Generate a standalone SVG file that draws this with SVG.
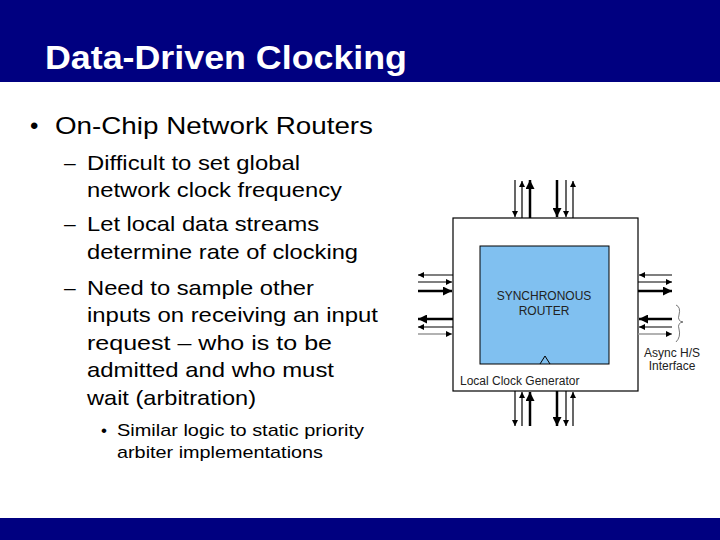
<svg xmlns="http://www.w3.org/2000/svg" width="720" height="540" viewBox="0 0 720 540">
<style>
.t{font-family:"Liberation Sans",Arial,sans-serif;fill:#000}
.l1{font-size:24px}.l2{font-size:21px}.l3{font-size:17px}
.s{font-family:"Liberation Sans",Arial,sans-serif;font-size:12px;fill:#222}
.n{stroke:#000;stroke-width:1.2}.k{stroke:#000;stroke-width:2.5}.g{stroke:#999;stroke-width:1.5}
</style>
<defs>
<marker id="a" viewBox="0 0 10 10" refX="10" refY="5" markerWidth="7" markerHeight="6" orient="auto" markerUnits="userSpaceOnUse"><path d="M0,0L10,5L0,10z"/></marker>
<marker id="b" viewBox="0 0 10 10" refX="10" refY="5" markerWidth="12" markerHeight="9" orient="auto" markerUnits="userSpaceOnUse"><path d="M0,0L10,5L0,10z"/></marker>
</defs>
<rect x="0" y="0" width="720" height="82" fill="#000080"/>
<text x="45" y="69" font-family="Liberation Sans,Arial,sans-serif" font-weight="bold" font-size="33" fill="#fff" textLength="362" lengthAdjust="spacingAndGlyphs">Data-Driven Clocking</text>
<rect x="0" y="518" width="720" height="22" fill="#000080"/>
<g id="text">
<text class="t l1" x="30" y="134">•</text><text class="t l1" x="55" y="134" textLength="318" lengthAdjust="spacingAndGlyphs">On-Chip Network Routers</text>
<text class="t l2" x="64" y="170">–</text><text class="t l2" x="87" y="170" textLength="213" lengthAdjust="spacingAndGlyphs">Difficult to set global</text>
<text class="t l2" x="87" y="197" textLength="255" lengthAdjust="spacingAndGlyphs">network clock frequency</text>
<text class="t l2" x="64" y="231">–</text><text class="t l2" x="87" y="231" textLength="232" lengthAdjust="spacingAndGlyphs">Let local data streams</text>
<text class="t l2" x="87" y="259" textLength="271" lengthAdjust="spacingAndGlyphs">determine rate of clocking</text>
<text class="t l2" x="64" y="295">–</text><text class="t l2" x="87" y="295" textLength="227" lengthAdjust="spacingAndGlyphs">Need to sample other</text>
<text class="t l2" x="87" y="322" textLength="291" lengthAdjust="spacingAndGlyphs">inputs on receiving an input</text>
<text class="t l2" x="87" y="350" textLength="245" lengthAdjust="spacingAndGlyphs">request – who is to be</text>
<text class="t l2" x="87" y="377" textLength="247" lengthAdjust="spacingAndGlyphs">admitted and who must</text>
<text class="t l2" x="87" y="405" textLength="169" lengthAdjust="spacingAndGlyphs">wait (arbitration)</text>
<text class="t l3" x="101" y="436">•</text><text class="t l3" x="117" y="436" textLength="247" lengthAdjust="spacingAndGlyphs">Similar logic to static priority</text>
<text class="t l3" x="117" y="458" textLength="206" lengthAdjust="spacingAndGlyphs">arbiter implementations</text>
</g>
<g id="lcg"><rect x="453" y="218" width="185" height="173" fill="#fff" stroke="#000" stroke-width="1.2"/>
<text class="s" x="460" y="385">Local Clock Generator</text></g>
<g id="router"><rect x="480" y="246" width="129" height="118" fill="#80c0f0" stroke="#000" stroke-width="1"/>
<text class="s" x="544" y="300" text-anchor="middle">SYNCHRONOUS</text>
<text class="s" x="544" y="315" text-anchor="middle">ROUTER</text>
<path d="M540,364L545,356L550,364" fill="none" stroke="#000" stroke-width="1"/></g>
<g id="async"><path d="M676,305q5,2 3,10q-2,6 4,7q-6,1 -4,7q2,8 -3,13" fill="none" stroke="#555" stroke-width="0.8"/>
<text class="s" x="672" y="357" text-anchor="middle" font-size="9.5">Async H/S</text>
<text class="s" x="672" y="370" text-anchor="middle" font-size="9.5">Interface</text></g>
<g id="connectors">
<line class="n" x1="515" y1="180" x2="515" y2="217" marker-end="url(#a)"/>
<line class="n" x1="522" y1="218" x2="522" y2="181" marker-end="url(#a)"/>
<line class="k" x1="530" y1="218" x2="530" y2="180" marker-end="url(#b)"/>
<line class="k" x1="557" y1="180" x2="557" y2="217" marker-end="url(#b)"/>
<line class="n" x1="566" y1="180" x2="566" y2="217" marker-end="url(#a)"/>
<line class="n" x1="573" y1="218" x2="573" y2="181" marker-end="url(#a)"/>
<line class="n" x1="515" y1="391" x2="515" y2="426" marker-end="url(#a)"/>
<line class="n" x1="522" y1="426" x2="522" y2="392" marker-end="url(#a)"/>
<line class="k" x1="530" y1="426" x2="530" y2="392" marker-end="url(#b)"/>
<line class="k" x1="557" y1="391" x2="557" y2="426" marker-end="url(#b)"/>
<line class="n" x1="566" y1="391" x2="566" y2="426" marker-end="url(#a)"/>
<line class="n" x1="573" y1="426" x2="573" y2="392" marker-end="url(#a)"/>
<line class="n" x1="453" y1="275" x2="418" y2="275" marker-end="url(#a)"/>
<line class="n" x1="418" y1="282" x2="452" y2="282" marker-end="url(#a)"/>
<line class="k" x1="418" y1="291" x2="452" y2="291" marker-end="url(#b)"/>
<line class="k" x1="453" y1="319" x2="418" y2="319" marker-end="url(#b)"/>
<line class="n" x1="453" y1="327" x2="418" y2="327" marker-end="url(#a)"/>
<line class="g" x1="418" y1="334" x2="452" y2="334" marker-end="url(#a)"/>
<line class="n" x1="672" y1="275" x2="639" y2="275" marker-end="url(#a)"/>
<line class="n" x1="638" y1="282" x2="672" y2="282" marker-end="url(#a)"/>
<line class="k" x1="638" y1="291" x2="672" y2="291" marker-end="url(#b)"/>
<line class="k" x1="672" y1="319" x2="639" y2="319" marker-end="url(#b)"/>
<line class="n" x1="672" y1="327" x2="639" y2="327" marker-end="url(#a)"/>
<line class="g" x1="638" y1="334" x2="672" y2="334" marker-end="url(#a)"/>
</g>
</svg>
